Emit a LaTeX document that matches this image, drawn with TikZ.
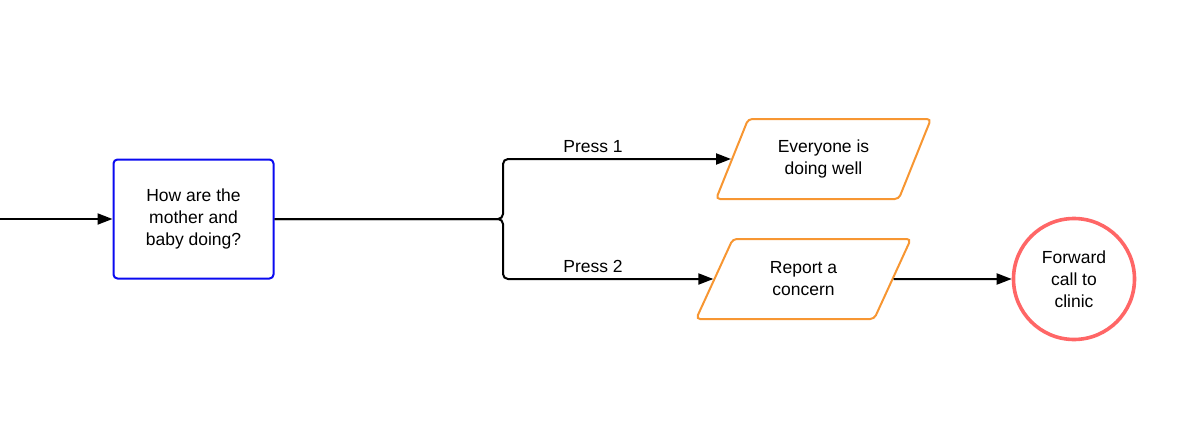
\documentclass[tikz,border=0pt]{standalone}
\usepackage{fontspec}
\setmainfont{Liberation Sans}
\usetikzlibrary{arrows.meta,shapes.geometric}
\definecolor{qblue}{RGB}{10,10,240}
\definecolor{porange}{RGB}{247,150,50}
\definecolor{cred}{RGB}{255,102,102}
\tikzset{
  lbl/.style={font=\fontsize{17.5}{22}\selectfont, align=center, text=black},
  conn/.style={line width=2pt, -{Triangle[length=15pt,width=11pt]}},
  qbox/.style={lbl, draw=qblue, line width=2pt, rounded corners=4pt, minimum width=160pt, minimum height=119pt, inner sep=0pt},
  para/.style={lbl, draw=porange, line width=2pt, trapezium, trapezium left angle=63, trapezium right angle=117,
    trapezium stretches=true, minimum width=215pt, minimum height=80pt, inner sep=0pt, rounded corners=4pt},
  endc/.style={lbl, draw=cred, line width=3.6pt, circle, minimum size=121pt, inner sep=0pt},
  presslbl/.style={lbl, anchor=base}
}
\begin{document}
\begin{tikzpicture}[x=1pt,y=-1pt]
\useasboundingbox (0,0) rectangle (1187,426);
\coordinate (start) at (0,219);
\node[qbox] (q) at (193.5,219) {How are the\\mother and\\baby doing?};
\node[para] (p1) at (823.5,159) {Everyone is\\doing well};
\node[para] (p2) at (803.5,279) {Report a\\concern};
\node[endc] (c) at (1074,279) {Forward\\call to\\clinic};
\coordinate (br) at (503,219);
\coordinate (brt) at (503,159);
\coordinate (brb) at (503,279);
\draw[conn] (start) -- (q.west);
\draw[conn, rounded corners=5pt] (q.east) -- (br) -- (brt) -- (p1.west);
\draw[conn, rounded corners=5pt] (q.east) -- (br) -- (brb) -- (p2.west);
\draw[conn] (p2.east) -- (c.west);
\node[presslbl] (l1) at (593,152) {Press 1};
\node[presslbl] (l2) at (593,272) {Press 2};
\end{tikzpicture}
\end{document}
